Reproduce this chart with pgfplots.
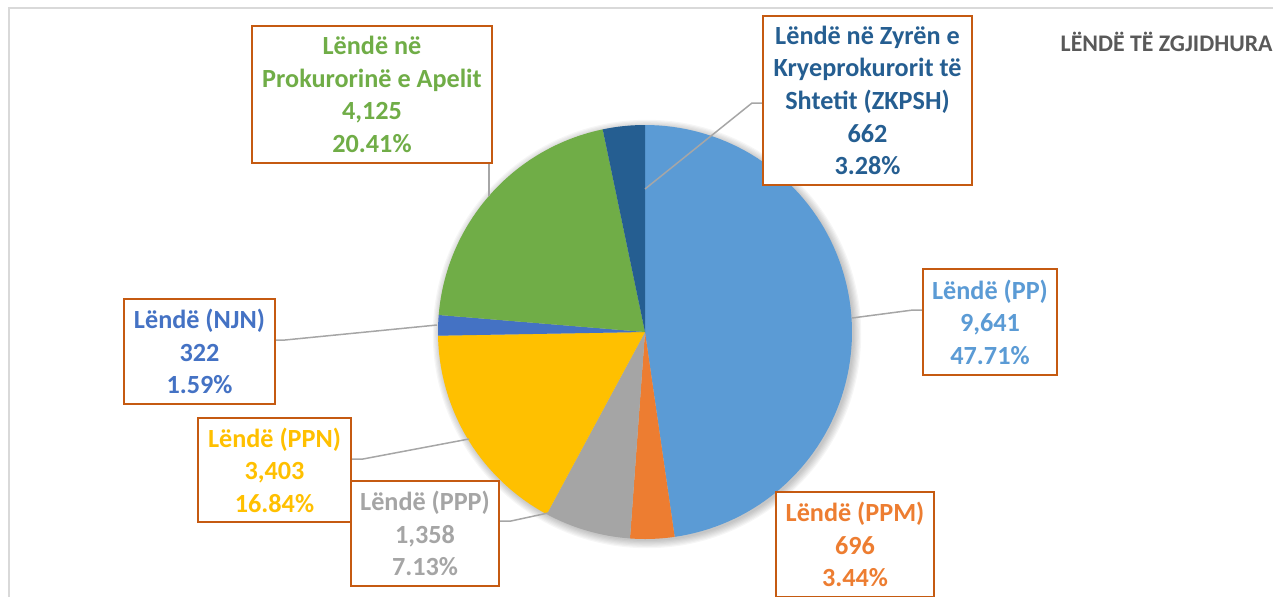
\documentclass[border=0pt]{standalone}
\usepackage{pgfplots}
\pgfplotsset{compat=1.18}
\usepackage{fontspec}
\setmainfont{Carlito}
\definecolor{pc1}{HTML}{5B9BD5}
\definecolor{pc2}{HTML}{ED7D31}
\definecolor{pc3}{HTML}{A5A5A5}
\definecolor{pc4}{HTML}{FFC000}
\definecolor{pc5}{HTML}{4472C4}
\definecolor{pc6}{HTML}{70AD47}
\definecolor{pc7}{HTML}{255E91}
\definecolor{boxc}{HTML}{C55A11}
\definecolor{leadc}{HTML}{A6A6A6}
\definecolor{framec}{HTML}{D9D9D9}
\definecolor{titlec}{HTML}{595959}
% values of the slices, clockwise from the top
\def\pievalues{9641,696,1358,3403,322,4125,662}
\def\pietotal{0}
\foreach \v in \pievalues {\pgfmathsetmacro\tmp{\pietotal+\v/1000}\xdef\pietotal{\tmp}}
\def\piecum{0}
\foreach \v [count=\i] in \pievalues {%
  \pgfmathsetmacro\tmpa{90-360*\piecum/\pietotal}%
  \pgfmathsetmacro\tmpc{\piecum+\v/1000}%
  \pgfmathsetmacro\tmpb{90-360*\tmpc/\pietotal}%
  \expandafter\xdef\csname pieA\i\endcsname{\tmpa}%
  \expandafter\xdef\csname pieB\i\endcsname{\tmpb}%
  \xdef\piecum{\tmpc}%
}
\newcommand\lf{\fontsize{13.1}{16.3}\selectfont\bfseries}
\begin{document}
\begin{tikzpicture}
\begin{axis}[
  width=636.5pt, height=298pt, scale only axis,
  xmin=0, xmax=1273, ymin=0, ymax=596,
  hide axis, clip=false,
]
% frame
\draw[framec, line width=0.75pt] (axis cs:9,-10) -- (axis cs:9,588) -- (axis cs:1290,588);
% soft shadow
\pgfplotsinvokeforeach{103.5,104.1,104.7,105.3,105.9,106.5,107.1}{
  \fill[black, opacity=0.035] (axis cs:647,262) circle[radius=#1pt];
}
% slices
\pgfplotsinvokeforeach{1,...,7}{
  \addplot[draw=none, fill=pc#1, domain=\csname pieB#1\endcsname:\csname pieA#1\endcsname, samples=90, variable=\t]
    ({645+207*cos(\t)},{264+207*sin(\t)}) -- (axis cs:645,264) -- cycle;
}
% leader lines
\begin{scope}[leadc, line width=0.75pt]
\draw (axis cs:645,407) -- (axis cs:752,493) -- (axis cs:763,493);
\draw (axis cs:489,434) -- (axis cs:489,400);
\draw (axis cs:852,278) -- (axis cs:913,286) -- (axis cs:923,286);
\draw (axis cs:548,83) -- (axis cs:511,75) -- (axis cs:499,75);
\draw (axis cs:469,157) -- (axis cs:363,137) -- (axis cs:351,137);
\draw (axis cs:437,271) -- (axis cs:285,256) -- (axis cs:275,256);
\end{scope}
% labels
\tikzset{lbox/.style={draw=boxc, line width=0.8pt, fill=white, inner sep=0pt, align=center, font=\lf}}
\node[lbox, text=pc6, minimum width=120pt, minimum height=68.5pt] at (axis cs:372,501.5)
  {Lëndë në\\Prokurorinë e Apelit\\4,125\\20.41\%};
\node[lbox, text=pc7, minimum width=104.5pt, minimum height=84.5pt] at (axis cs:867.5,495.5)
  {Lëndë në Zyrën e\\Kryeprokurorit të\\Shtetit (ZKPSH)\\662\\3.28\%};
\node[lbox, text=pc1, minimum width=67pt, minimum height=53pt] at (axis cs:990,274)
  {Lëndë (PP)\\9,641\\47.71\%};
\node[lbox, text=pc2, minimum width=79pt, minimum height=52.5pt] at (axis cs:855,51.5)
  {Lëndë (PPM)\\696\\3.44\%};
\node[lbox, text=pc3, minimum width=74pt, minimum height=52.5pt] at (axis cs:425,62.5)
  {Lëndë (PPP)\\1,358\\7.13\%};
\node[lbox, text=pc4, minimum width=76.5pt, minimum height=52pt] at (axis cs:274.5,126)
  {Lëndë (PPN)\\3,403\\16.84\%};
\node[lbox, text=pc5, minimum width=75.5pt, minimum height=52.5pt] at (axis cs:199.5,244.5)
  {Lëndë (NJN)\\322\\1.59\%};
% title
\node[anchor=base east, text=titlec, font=\fontsize{11.9}{14}\selectfont\bfseries, inner sep=0pt] at (axis cs:1273,545) {LËNDË TË ZGJIDHURA};
\end{axis}
\pgfresetboundingbox
\path (0,0) rectangle (636.5pt,298pt);
\end{tikzpicture}
\end{document}
